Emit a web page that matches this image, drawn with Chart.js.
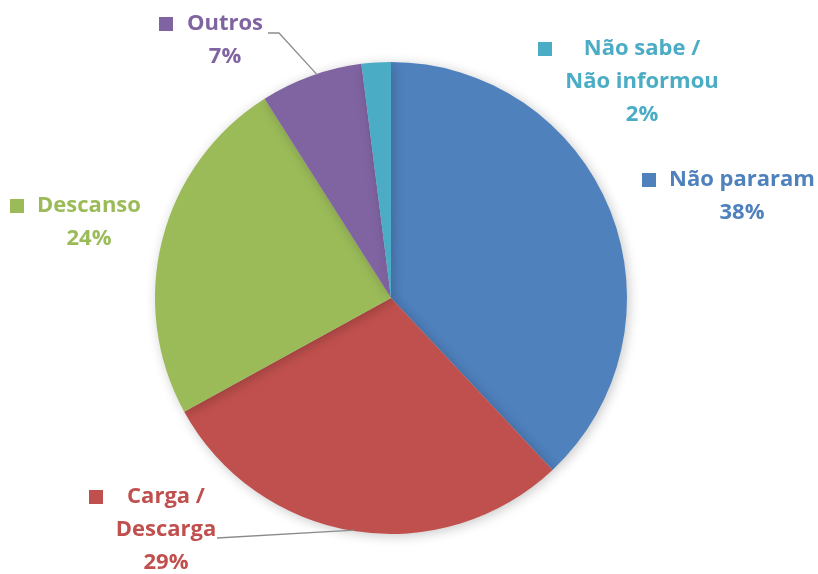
<!DOCTYPE html>
<html>
<head>
<meta charset="utf-8">
<script src="https://cdn.jsdelivr.net/npm/chart.js@4"></script>
<style>
  html, body { margin: 0; padding: 0; background: #fff; }
  #wrap { width: 818px; height: 574px; }
</style>
</head>
<body>
<div id="wrap"><canvas id="c" width="818" height="574"></canvas></div>
<script>
const labels = [["Não pararam"], ["Carga /", "Descarga"], ["Descanso"], ["Outros"], ["Não sabe /", "Não informou"]];
const values = [38, 29, 24, 7, 2];
const colors = ["#4F81BD", "#C0504D", "#9BBB59", "#8064A2", "#4BACC6"];

// label block placement: centre x of text, y of first line, square x
const labelPos = [
  { x: 742, y: 180, sq: 649 },
  { x: 166, y: 497, sq: 96, leader: [217, 538], frac: 0.5 },
  { x: 89, y: 206, sq: 17 },
  { x: 225, y: 24, sq: 166, leader: [268, 33, 279], frac: 0.56 },
  { x: 642, y: 49, sq: 545 }
];

const labelPlugin = {
  id: "outLabels",
  afterDatasetsDraw(chart) {
    const ctx = chart.ctx;
    const meta = chart.getDatasetMeta(0);
    ctx.save();
    ctx.font = "bold 22px 'Open Sans', sans-serif";
    ctx.textAlign = "center";
    ctx.textBaseline = "middle";
    labels.forEach((lines, i) => {
      const p = labelPos[i];
      const arc = meta.data[i];
      // leader line to the slice edge
      if (p.leader) {
        const ang = arc.startAngle + (arc.endAngle - arc.startAngle) * p.frac;
        const ex = arc.x + Math.cos(ang) * (arc.outerRadius - 1);
        const ey = arc.y + Math.sin(ang) * (arc.outerRadius - 1);
        ctx.strokeStyle = "#8c8c8c";
        ctx.lineWidth = 1.3;
        ctx.beginPath();
        ctx.moveTo(p.leader[0], p.leader[1]);
        if (p.leader[2]) ctx.lineTo(p.leader[2], p.leader[1]);
        ctx.lineTo(ex, ey);
        ctx.stroke();
      }
      ctx.fillStyle = colors[i];
      ctx.fillRect(p.sq - 7, p.y - 7, 14, 14);
      lines.concat([values[i] + "%"]).forEach((t, k) => {
        ctx.fillText(t, p.x, p.y + k * 33);
      });
    });
    ctx.restore();
  }
};

const shadowPlugin = {
  id: "pieShadow",
  beforeDatasetsDraw(chart) {
    const ctx = chart.ctx;
    ctx.save();
    ctx.shadowColor = "rgba(0,0,0,0.22)";
    ctx.shadowBlur = 12;
    ctx.shadowOffsetX = 2;
    ctx.shadowOffsetY = 2;
  },
  afterDatasetsDraw(chart) {
    chart.ctx.restore();
  }
};

new Chart(document.getElementById("c"), {
  type: "pie",
  data: {
    labels: labels.map(l => l.join(" ")),
    datasets: [{
      data: values,
      backgroundColor: colors,
      borderWidth: 0
    }]
  },
  options: {
    responsive: false,
    animation: false,
    layout: { padding: { top: 62, bottom: 40, left: 155, right: 191 } },
    plugins: {
      legend: { display: false },
      tooltip: { enabled: false }
    }
  },
  plugins: [shadowPlugin, labelPlugin]
});
</script>
</body>
</html>
